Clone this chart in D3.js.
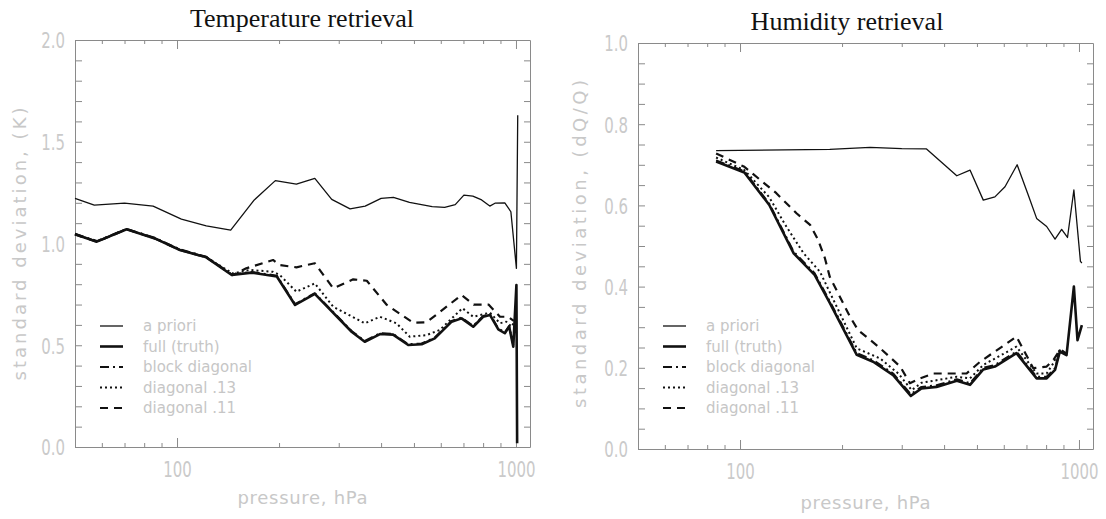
<!DOCTYPE html>
<html>
<head>
<meta charset="utf-8">
<script src="https://cdn.jsdelivr.net/npm/d3@7"></script>
<style>
body { margin: 0; background: #fff; }
svg { display: block; background: #fff; }
.tick-label { font-family: 'DejaVu Sans', sans-serif; font-size: 22px; fill: #cacaca; }
.axis-title { font-family: 'DejaVu Sans', sans-serif; font-size: 18px; fill: #c8c8c8; }
.legend-label { font-family: 'DejaVu Sans', sans-serif; font-size: 15px; fill: #c6c6c6; }
.title { font-family: 'Liberation Serif', 'Times New Roman', serif; font-size: 26px; fill: #111; }
</style>
</head>
<body>
<script>
// ---- data (pressure in hPa, std deviation) ----
const xDomain = [50, 1100]
const xTicks = [60, 70, 80, 90, 100, 200, 300, 400, 500, 600, 700, 800, 900, 1000]
const xTickLabels = [100, 1000]
const tempYLabels = [0.0, 0.5, 1.0, 1.5, 2.0]
const humYLabels = [0.0, 0.2, 0.4, 0.6, 0.8, 1.0]
const legendNames = ['a priori', 'full (truth)', 'block diagonal', 'diagonal .13', 'diagonal .11']

// temperature retrieval
const tPriorP = [50, 57, 70, 85, 103, 122, 144, 169, 195, 225, 255, 286, 324, 359, 400, 435, 485, 566, 616, 662, 702, 746, 792, 837, 867, 927, 966, 1003, 1012]
const tPriorV = [1.222, 1.189, 1.198, 1.184, 1.12, 1.087, 1.066, 1.214, 1.309, 1.292, 1.320, 1.217, 1.170, 1.184, 1.222, 1.227, 1.202, 1.181, 1.178, 1.191, 1.238, 1.233, 1.214, 1.184, 1.198, 1.2, 1.156, 0.878, 1.63]
const tFullP = [50, 58, 71, 86, 102, 122, 145, 166, 197, 223, 255, 328, 358, 397, 434, 481, 527, 576, 646, 691, 748, 800, 838, 887, 927, 955, 982, 1003, 1008]
const tFullV = [1.045, 1.009, 1.070, 1.025, 0.968, 0.932, 0.845, 0.857, 0.838, 0.698, 0.752, 0.565, 0.517, 0.555, 0.552, 0.501, 0.505, 0.534, 0.616, 0.632, 0.591, 0.640, 0.649, 0.578, 0.559, 0.591, 0.493, 0.796, 0.018]
const tBlockP = [50, 58, 71, 86, 102, 122, 145, 166, 197, 223, 255, 328, 358, 397, 434, 481, 527, 576, 646, 691, 748, 800, 838, 887, 927, 955, 982]
const tBlockV = [1.048, 1.012, 1.072, 1.028, 0.971, 0.935, 0.848, 0.860, 0.842, 0.702, 0.756, 0.569, 0.521, 0.559, 0.556, 0.505, 0.509, 0.538, 0.620, 0.636, 0.595, 0.644, 0.653, 0.582, 0.563, 0.595, 0.50]
const tDiag13P = [50, 58, 71, 86, 102, 122, 146, 164, 192, 201, 225, 255, 289, 358, 397, 444, 486, 545, 596, 695, 748, 838, 897, 936, 971, 992]
const tDiag13V = [1.045, 1.009, 1.070, 1.025, 0.968, 0.932, 0.853, 0.870, 0.861, 0.845, 0.763, 0.804, 0.689, 0.608, 0.640, 0.608, 0.542, 0.550, 0.575, 0.682, 0.640, 0.660, 0.608, 0.616, 0.591, 0.62]
const tDiag11P = [50, 58, 71, 86, 102, 122, 146, 160, 192, 201, 225, 255, 289, 331, 363, 416, 497, 545, 691, 750, 830, 897, 948, 985]
const tDiag11V = [1.045, 1.009, 1.070, 1.025, 0.968, 0.932, 0.845, 0.878, 0.919, 0.894, 0.883, 0.903, 0.780, 0.824, 0.817, 0.698, 0.611, 0.613, 0.747, 0.700, 0.700, 0.640, 0.640, 0.62]

// humidity retrieval
const qPriorP = [85, 184, 242, 300, 355, 436, 477, 522, 565, 605, 657, 708, 750, 803, 850, 889, 925, 966, 1010, 1020]
const qPriorV = [0.735, 0.738, 0.743, 0.740, 0.739, 0.673, 0.687, 0.613, 0.621, 0.646, 0.700, 0.626, 0.568, 0.548, 0.517, 0.541, 0.521, 0.638, 0.462, 0.458]
const qFullP = [85, 103, 122, 144, 166, 184, 221, 247, 283, 319, 343, 380, 436, 477, 522, 565, 654, 750, 803, 850, 878, 919, 966, 990, 1020]
const qFullV = [0.708, 0.681, 0.601, 0.482, 0.429, 0.36, 0.232, 0.215, 0.182, 0.131, 0.149, 0.153, 0.168, 0.158, 0.196, 0.203, 0.236, 0.174, 0.174, 0.195, 0.24, 0.231, 0.40, 0.268, 0.305]
const qBlockP = [85, 103, 122, 144, 166, 184, 221, 247, 283, 319, 343, 380, 436, 477, 522, 565, 654, 750, 803, 850, 878, 919]
const qBlockV = [0.711, 0.684, 0.604, 0.486, 0.433, 0.364, 0.236, 0.219, 0.186, 0.135, 0.153, 0.157, 0.172, 0.162, 0.2, 0.207, 0.24, 0.178, 0.178, 0.199, 0.243, 0.234]
const qDiag13P = [85, 103, 122, 136, 154, 172, 193, 221, 259, 293, 321, 343, 436, 477, 522, 654, 750, 803, 840, 878, 919]
const qDiag13V = [0.718, 0.687, 0.62, 0.552, 0.482, 0.437, 0.35, 0.248, 0.223, 0.186, 0.145, 0.163, 0.178, 0.174, 0.207, 0.252, 0.186, 0.186, 0.211, 0.245, 0.235]
const qDiag11P = [85, 103, 128, 147, 161, 170, 178, 184, 211, 223, 256, 297, 317, 340, 372, 466, 511, 612, 654, 733, 803, 840, 880, 920]
const qDiag11V = [0.728, 0.695, 0.63, 0.58, 0.552, 0.515, 0.47, 0.424, 0.326, 0.293, 0.252, 0.203, 0.162, 0.174, 0.186, 0.186, 0.215, 0.26, 0.277, 0.199, 0.203, 0.219, 0.245, 0.235]

// line looks, in legend order
const lineStyles = [
    {width: 1.3, dash: null},
    {width: 2.6, dash: null},
    {width: 2, dash: '9,4,2,4'},
    {width: 2, dash: '2,3'},
    {width: 2.2, dash: '8,6'}
]

let body = d3.select('body')
let svg = body.append('svg').attr('width', 1106).attr('height', 519)

const frameColor = '#8a8a8a'
const squeeze = 0.68   // plotter digits are tall and narrow

function styleAxis(g) {
    g.select('.domain').attr('stroke', frameColor).attr('stroke-width', 1)
    g.selectAll('.tick line').attr('stroke', frameColor)
    g.selectAll('text').attr('class', 'tick-label')
        .attr('transform', 'scale(' + squeeze + ',1)')
}

function drawPanel(p) {
    let g = svg.append('g')

    let x = d3.scaleLog().domain(xDomain).range([p.left, p.right])
    let y = d3.scaleLinear().domain([0, p.yMax]).range([p.bottom, p.top])

    let yTicks = d3.range(0, p.yMax + 1e-6, p.yStep)
    let isLabel = d => p.yLabels.some(v => Math.abs(v - d) < 1e-6)

    let bottom = g.append('g').attr('transform', 'translate(0,' + p.bottom + ')')
        .call(d3.axisBottom(x).tickValues(xTicks).tickSizeInner(-5).tickSizeOuter(0).tickPadding(14)
            .tickFormat(d => xTickLabels.includes(d) ? d : ''))
    bottom.selectAll('.tick line').attr('y2', d => xTickLabels.includes(d) ? -9 : -4)
    styleAxis(bottom)

    let top = g.append('g').attr('transform', 'translate(0,' + p.top + ')')
        .call(d3.axisTop(x).tickValues(xTicks).tickSizeInner(-5).tickSizeOuter(0).tickFormat(''))
    top.selectAll('.tick line').attr('y2', d => xTickLabels.includes(d) ? 9 : 4)
    styleAxis(top)

    let left = g.append('g').attr('transform', 'translate(' + p.left + ',0)')
        .call(d3.axisLeft(y).tickValues(yTicks).tickSizeInner(-7).tickSizeOuter(0).tickPadding(10)
            .tickFormat(d => isLabel(d) ? d3.format('.1f')(d) : ''))
    styleAxis(left)
    left.selectAll('text').attr('x', -10 / squeeze).attr('dy', '0.36em')

    let right = g.append('g').attr('transform', 'translate(' + p.right + ',0)')
        .call(d3.axisRight(y).tickValues(yTicks).tickSizeInner(-6).tickSizeOuter(0).tickFormat(''))
    styleAxis(right)

    let line = d3.line().x(d => x(d[0])).y(d => y(d[1]))

    // draw order: a priori, block, .11, .13, full on top
    let order = [0, 2, 4, 3, 1]
    order.forEach(i => {
        let s = p.series[i]
        g.append('path')
            .datum(d3.zip(s[0], s[1]))
            .attr('d', line)
            .attr('fill', 'none')
            .attr('stroke', '#111')
            .attr('stroke-width', lineStyles[i].width)
            .attr('stroke-dasharray', lineStyles[i].dash)
            .attr('stroke-linejoin', 'round')
    })

    // legend
    let rows = [326, 346.5, 367, 387.5, 408]
    legendNames.forEach((name, i) => {
        g.append('line')
            .attr('x1', p.left + 25).attr('x2', p.left + 48)
            .attr('y1', rows[i]).attr('y2', rows[i])
            .attr('stroke', '#111')
            .attr('stroke-width', lineStyles[i].width)
            .attr('stroke-dasharray', lineStyles[i].dash)
        g.append('text')
            .attr('class', 'legend-label')
            .attr('x', p.left + 68).attr('y', rows[i])
            .attr('dy', '0.35em')
            .text(name)
    })

    g.append('text')
        .attr('class', 'title')
        .attr('text-anchor', 'middle')
        .attr('x', p.titleX).attr('y', p.titleY)
        .text(p.title)

    g.append('text')
        .attr('class', 'axis-title')
        .attr('text-anchor', 'middle')
        .attr('x', (p.left + p.right) / 2).attr('y', p.xTitleY)
        .attr('textLength', 130).attr('lengthAdjust', 'spacing')
        .text('pressure, hPa')

    g.append('text')
        .attr('class', 'axis-title')
        .attr('text-anchor', 'middle')
        .attr('transform', 'translate(' + p.yTitleX + ',' + p.yTitleY + ') rotate(-90)')
        .attr('dy', '0.35em')
        .attr('textLength', p.yTitleLen).attr('lengthAdjust', 'spacing')
        .text(p.yTitle)
}

drawPanel({
    left: 75, right: 530, top: 40, bottom: 447,
    yMax: 2, yStep: 0.1, yLabels: tempYLabels,
    title: 'Temperature retrieval', titleX: 302, titleY: 27,
    xTitleY: 504,
    yTitle: 'standard deviation, (K)', yTitleX: 20, yTitleY: 244, yTitleLen: 273,
    series: [[tPriorP, tPriorV], [tFullP, tFullV], [tBlockP, tBlockV], [tDiag13P, tDiag13V], [tDiag11P, tDiag11V]]
})

drawPanel({
    left: 638, right: 1093, top: 43, bottom: 449,
    yMax: 1, yStep: 0.05, yLabels: humYLabels,
    title: 'Humidity retrieval', titleX: 847, titleY: 30,
    xTitleY: 509,
    yTitle: 'standard deviation, (dQ/Q)', yTitleX: 580, yTitleY: 244, yTitleLen: 328,
    series: [[qPriorP, qPriorV], [qFullP, qFullV], [qBlockP, qBlockV], [qDiag13P, qDiag13V], [qDiag11P, qDiag11V]]
})
</script>
</body>
</html>
